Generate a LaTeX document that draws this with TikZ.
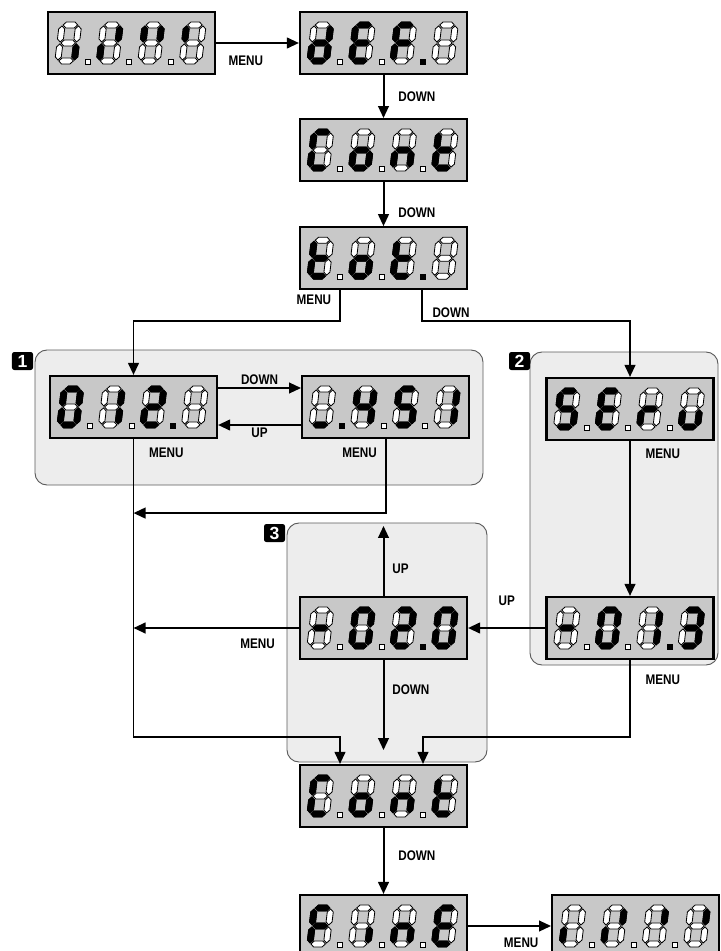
\documentclass[tikz,border=0pt]{standalone}
\usepackage{fontspec}
\setmainfont{Liberation Sans}
\newfontfamily\lblfont[FakeStretch=0.84]{Liberation Sans}
\usetikzlibrary{
  arrows.meta,
  positioning
}
\definecolor{lcdFace}{HTML}{C8C8C8}
\definecolor{grpFill}{HTML}{EDEDED}
\definecolor{grpLine}{HTML}{5A5A5A}
\tikzset{
  lcdbox/.style={
    draw, line width=1.8pt, fill=lcdFace, minimum width=5.01cm, minimum height=1.86cm,
    inner sep=0pt
  },
  segoff/.style={fill=white, draw=black, line width=0.7pt},
  segon/.style={fill=black, draw=black, line width=0.7pt},
  lbl/.style={font=\lblfont\bfseries\fontsize{11.9}{12}\selectfont, inner sep=1pt},
  grp/.style={draw=grpLine, fill=grpFill, line width=0.8pt, rounded corners=0.36cm},
  badge/.style={
    fill=black, text=white, rounded corners=2pt, minimum width=0.63cm, minimum height=0.54cm,
    inner sep=0pt, font=\bfseries\fontsize{15}{15}\selectfont
  },
  arr/.style={-{Triangle[length=3.6mm, width=3.2mm]}, line width=1.7pt}
}
% segment geometry (pixel units)
\newcommand\lcdt{3.0}
\newcommand\lcdg{1.0}
\newcommand\lcdW{16.5}
\newcommand\lcdH{36}
\newcommand\lcdh[2]{%
  \filldraw[#2] ({\lcdg},{#1}) -- ({\lcdg+\lcdt},{#1-\lcdt}) -- ({\lcdW-\lcdg-\lcdt},{#1-\lcdt})
    -- ({\lcdW-\lcdg},{#1}) -- ({\lcdW-\lcdg-\lcdt},{#1+\lcdt}) -- ({\lcdg+\lcdt},{#1+\lcdt}) -- cycle;}
\newcommand\lcdv[4]{%
  \filldraw[#4] ({#1},{#2+\lcdg}) -- ({#1+\lcdt},{#2+\lcdg+\lcdt}) -- ({#1+\lcdt},{#3-\lcdg-\lcdt})
    -- ({#1},{#3-\lcdg}) -- ({#1-\lcdt},{#3-\lcdg-\lcdt}) -- ({#1-\lcdt},{#2+\lcdg+\lcdt}) -- cycle;}
\newcommand\lcdsegA[1]{\lcdh{-\lcdH}{#1}}
\newcommand\lcdsegB[1]{\lcdv{\lcdW}{-\lcdH}{-\lcdH/2}{#1}}
\newcommand\lcdsegC[1]{\lcdv{\lcdW}{-\lcdH/2}{0}{#1}}
\newcommand\lcdsegD[1]{\lcdh{0}{#1}}
\newcommand\lcdsegE[1]{\lcdv{0}{-\lcdH/2}{0}{#1}}
\newcommand\lcdsegF[1]{\lcdv{0}{-\lcdH}{-\lcdH/2}{#1}}
\newcommand\lcdsegG[1]{\lcdh{-\lcdH/2}{#1}}
\newcommand\lcdseg[1]{}
\newcommand\lcddigit[3]{%
  \begin{scope}[shift={(#1,#2)}, xslant=0.12]
    \foreach \s in {A,B,C,D,E,F,G} {\csname lcdseg\s\endcsname{segoff}}
    \foreach \s in {#3} {\csname lcdseg\s\endcsname{segon}}
  \end{scope}}
% node, four digits, lit point (0 = none)
\newcommand\lcdshow[6]{%
  \begin{scope}[shift={(#1.north west)}]
    \lcddigit{11}{50}{#2}
    \lcddigit{52.5}{50}{#3}
    \lcddigit{94}{50}{#4}
    \lcddigit{135.5}{50}{#5}
    \foreach \k in {0,1,2} {\filldraw[segoff] ({38.5+41.5*\k},48) rectangle +(5,5);}
    \ifnum#6>0 \filldraw[segon] ({38.5+41.5*(#6-1)},48) rectangle +(5,5);\fi
  \end{scope}}

\begin{document}
\begin{tikzpicture}[x=0.03cm, y=-0.03cm, node distance=2.49cm]
  \useasboundingbox (0,0) rectangle (720,951);
  % groups
  \draw[grp] (35,350) rectangle (483,485);
  \draw[grp] (530,352) rectangle (718,665);
  \draw[grp] (287,523) rectangle (487,762);
  \node[badge] (b1) at (22.5,361) {1};
  \node[badge] (b2) at (519.5,361) {2};
  \node[badge] (b3) at (274.5,533) {3};

  % displays
  \node[lcdbox] (dflt) at (383.5,43) {};
  \node[lcdbox, left=of dflt] (boot) {};
  \node[lcdbox, below=1.29cm of dflt] (cont) {};
  \node[lcdbox, below=1.32cm of cont] (tot) {};
  \node[lcdbox] (pA) at (133.5,407) {};
  \node[lcdbox, right=of pA] (pB) {};
  \node[lcdbox] (serv) at (630,409) {};
  \node[lcdbox] (pC) at (630,628) {};
  \node[lcdbox] (pD) at (383.5,628) {};
  \node[lcdbox] (cont2) at (383.5,796) {};
  \node[lcdbox] (fine) at (383.5,926) {};
  \node[lcdbox, right=of fine] (boot2) {};

  \coordinate (jA) at ([yshift=-2.22cm]pA.south);
  \coordinate (jB) at (pA.south |- pD.west);
  \coordinate (upEnd) at ([yshift=2.1cm]pD.north);
  \coordinate (dnEnd) at ([yshift=-2.7cm]pD.south);

  \draw[arr] (boot) -- node[lbl, pos=0.36, below=3.2mm]{MENU} (dflt);
  \draw[arr] (dflt) -- node[lbl, right=3.8mm]{DOWN} (cont);
  \draw[arr] (cont) -- node[lbl, pos=0.7, right=3.8mm]{DOWN} (tot);
  \draw[arr] ([xshift=-1.305cm]tot.south) |- node[lbl, pos=0.15, left=2mm]{MENU}
    ([yshift=1.62cm]pA.north) -- (pA.north);
  \draw[arr] ([xshift=1.155cm]tot.south) |- node[lbl, pos=0.37, right=2.5mm]{DOWN}
    ([yshift=1.68cm]serv.north) -- (serv.north);
  \draw[arr] ([yshift=0.57cm]pA.east) -- node[lbl, above=0.5mm]{DOWN} ([yshift=0.57cm]pB.west);
  \draw[arr] ([yshift=-0.54cm]pB.west) -- node[lbl, below=0.3mm]{UP} ([yshift=-0.54cm]pA.east);
  \draw[arr] (pA.south) |- node[lbl, pos=0.023, right=4mm]{MENU}
    ([xshift=-1.305cm, yshift=0.81cm]cont2.north) -- ([xshift=-1.305cm]cont2.north);
  \draw[arr] (pB.south) |- node[lbl, pos=0.09, left=2mm]{MENU} (jA);
  \draw[arr] (serv) -- node[lbl, pos=0.08, right=4mm]{MENU} (pC);
  \draw[arr] (pC) -- node[lbl, above=6mm]{UP} (pD);
  \draw[arr] (pC.south) |- node[lbl, pos=0.125, right=4mm]{MENU}
    ([xshift=1.185cm, yshift=0.81cm]cont2.north) -- ([xshift=1.185cm]cont2.north);
  \draw[arr] (pD) -- node[lbl, pos=0.39, right=2mm]{UP} (upEnd);
  \draw[arr] (pD) -- node[lbl, pos=0.33, right=2mm]{DOWN} (dnEnd);
  \draw[arr] (pD) -- node[lbl, pos=0.25, below=2.5mm]{MENU} (jB);
  \draw[arr] (cont2) -- node[lbl, pos=0.42, right=3.8mm]{DOWN} (fine);
  \draw[arr] (fine) -- node[lbl, pos=0.64, below=3mm]{MENU} (boot2);

  % digits
  \lcdshow{boot}{C}{B,E}{B,F}{F}{0}
  \lcdshow{dflt}{B,C,D,E,G}{A,D,E,F,G}{A,E,F,G}{}{3}
  \lcdshow{cont}{A,D,E,F}{C,D,E,G}{C,E,G}{D,E,F,G}{0}
  \lcdshow{tot}{D,E,F,G}{C,D,E,G}{D,E,F,G}{}{3}
  \lcdshow{pA}{A,B,C,D,E,F}{B,C}{A,B,D,E,G}{}{3}
  \lcdshow{pB}{D}{B,C,F,G}{A,C,D,F,G}{B,C}{1}
  \lcdshow{serv}{A,C,D,F,G}{A,D,E,F,G}{E,G}{C,D,E}{0}
  \lcdshow{pC}{G}{A,B,C,D,E,F}{B,C}{A,B,C,D,G}{3}
  \lcdshow{pD}{G}{A,B,C,D,E,F}{A,B,D,E,G}{A,B,C,D,E,F}{3}
  \lcdshow{cont2}{A,D,E,F}{C,D,E,G}{C,E,G}{D,E,F,G}{0}
  \lcdshow{fine}{A,E,F,G}{C}{C,E,G}{A,D,E,F,G}{0}
  \lcdshow{boot2}{E}{B,E}{B}{B}{0}
\end{tikzpicture}
\end{document}
